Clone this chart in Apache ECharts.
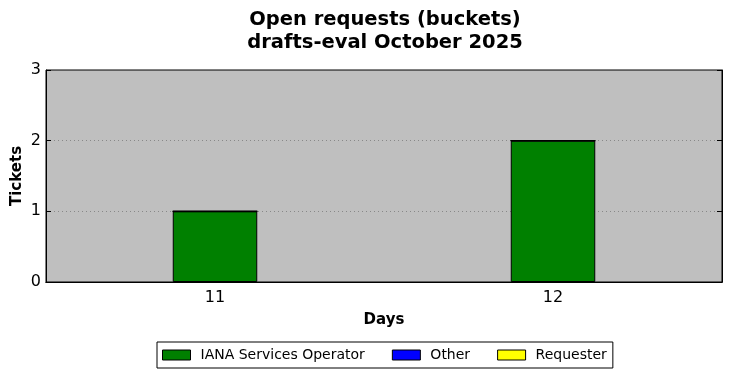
<!DOCTYPE html>
<html>
<head>
<meta charset="utf-8">
<script src="https://cdn.jsdelivr.net/npm/echarts@6/dist/echarts.min.js"></script>
<style>
html, body { margin: 0; padding: 0; background: #fff; }
#chart { width: 731px; height: 378px; }
</style>
</head>
<body>
<div id="chart"></div>
<script>
var days = ['11', '12'];
var ianaOperator = [1, 2];
var other = [0, 0];
var requester = [0, 0];
var yTicks = [0, 1, 2, 3];

var chart = echarts.init(document.getElementById('chart'));
var font = 'DejaVu Sans';

function barSeries(name, data, color) {
	return {
		name: name,
		type: 'bar',
		stack: 'total',
		barWidth: '25%',
		data: data,
		itemStyle: { color: color, borderColor: '#000', borderWidth: 1 }
	};
}

var option = {
	animation: false,
	backgroundColor: '#fff',
	title: {
		text: 'Open requests (buckets)\ndrafts-eval October 2025',
		left: 380,
		textAlign: 'center',
		top: 3,
		textStyle: { fontFamily: font, fontSize: 19.5, fontWeight: 'bold', color: '#000', lineHeight: 23 }
	},
	legend: {
		bottom: 10,
		left: 157,
		data: ['IANA Services Operator', 'Other', 'Requester'],
		icon: 'rect',
		itemWidth: 28,
		itemHeight: 10,
		itemGap: 27,
		padding: [6, 6, 6, 5],
		borderColor: '#000',
		borderWidth: 1,
		borderRadius: 0,
		itemStyle: { borderColor: '#000', borderWidth: 1 },
		textStyle: { fontFamily: font, fontSize: 14, color: '#000', padding: [0, 0, 0, 5] }
	},
	grid: {
		left: 46, right: 9, top: 70, bottom: 96,
		outerBoundsMode: 'none',
		show: true,
		backgroundColor: '#bfbfbf',
		borderColor: '#000',
		borderWidth: 1
	},
	xAxis: [{
		type: 'category',
		data: days,
		name: 'Days',
		nameLocation: 'middle',
		nameGap: 31,
		nameMoveOverlap: false,
		nameTextStyle: { fontFamily: font, fontSize: 15, fontWeight: 'bold', color: '#000' },
		axisLine: { lineStyle: { color: '#000' } },
		axisTick: { inside: true, alignWithLabel: true, length: 5, lineStyle: { color: '#000' } },
		axisLabel: { fontFamily: font, fontSize: 16, color: '#000', margin: 8 }
	}, {
		type: 'category',
		data: days,
		position: 'top',
		axisLine: { show: true, lineStyle: { color: '#000' } },
		axisTick: { inside: true, alignWithLabel: true, length: 5, lineStyle: { color: '#000' } },
		axisLabel: { show: false }
	}],
	yAxis: [{
		type: 'value',
		min: yTicks[0],
		max: yTicks[yTicks.length - 1],
		interval: 1,
		name: 'Tickets',
		nameLocation: 'middle',
		nameGap: 21,
		nameMoveOverlap: false,
		nameTextStyle: { fontFamily: font, fontSize: 15, fontWeight: 'bold', color: '#000' },
		axisLine: { show: true, lineStyle: { color: '#000' } },
		axisTick: { show: true, inside: true, length: 5, lineStyle: { color: '#000' } },
		axisLabel: { fontFamily: font, fontSize: 16, color: '#000', margin: 5 },
		splitLine: { show: true, showMinLine: false, showMaxLine: false, lineStyle: { color: '#888', type: [1, 3], width: 1 } }
	}, {
		type: 'value',
		position: 'right',
		min: yTicks[0],
		max: yTicks[yTicks.length - 1],
		interval: 1,
		axisLine: { show: true, lineStyle: { color: '#000' } },
		axisTick: { show: true, inside: true, length: 5, lineStyle: { color: '#000' } },
		axisLabel: { show: false },
		splitLine: { show: false }
	}],
	series: [
		barSeries('IANA Services Operator', ianaOperator, '#008000'),
		barSeries('Other', other, '#0000ff'),
		barSeries('Requester', requester, '#ffff00')
	]
};
chart.setOption(option);
</script>
</body>
</html>
